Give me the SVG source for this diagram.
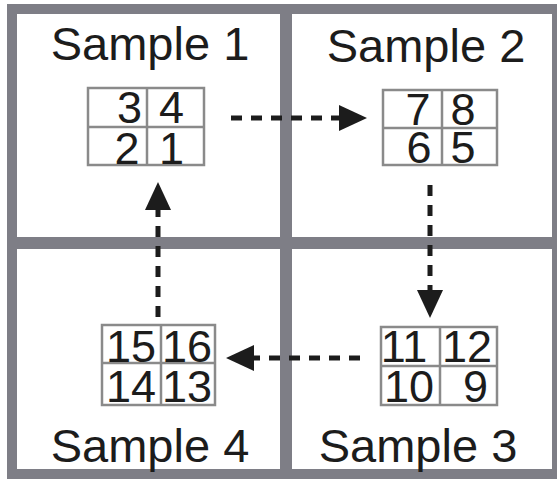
<svg xmlns="http://www.w3.org/2000/svg" width="557" height="480" viewBox="0 0 557 480">
  <style>
    .frame { fill: none; stroke: #7e7e86; }
    .grid { fill: #ffffff; stroke: #8a8a8a; stroke-width: 2.5; }
    .gline { stroke: #8a8a8a; stroke-width: 2.5; }
    .label { font-family: "Liberation Sans", Arial, sans-serif; font-size: 47px; fill: #1c1c1c; text-anchor: middle; }
    .num { font-family: "Liberation Sans", Arial, sans-serif; font-size: 45px; fill: #1c1c1c; text-anchor: middle; }
    .flow { fill: none; stroke: #1c1c1c; stroke-width: 5; stroke-dasharray: 11 9; }
  </style>
  <defs>
    <marker id="head" markerUnits="userSpaceOnUse" markerWidth="28" markerHeight="26" refX="0" refY="13" orient="auto">
      <path d="M0,0 L28,13 L0,26 z" fill="#1c1c1c"/>
    </marker>
  </defs>

  <rect width="557" height="480" fill="#ffffff"/>

  <!-- quadrant frame -->
  <g id="frame">
    <rect class="frame" x="12" y="9" width="545" height="465" stroke-width="10"/>
    <line class="frame" x1="286" y1="9" x2="286" y2="474" stroke-width="12"/>
    <line class="frame" x1="12" y1="243" x2="557" y2="243" stroke-width="12"/>
  </g>

  <g id="sample1">
    <text class="label" x="150" y="60">Sample 1</text>
    <rect class="grid" x="88" y="88" width="116" height="77"/>
    <line class="gline" x1="147" y1="88" x2="147" y2="165"/>
    <line class="gline" x1="88" y1="127" x2="204" y2="127"/>
    <text class="num" x="129.5" y="123">3</text>
    <text class="num" x="171.5" y="123">4</text>
    <text class="num" x="127" y="164">2</text>
    <text class="num" x="171.5" y="164">1</text>
  </g>

  <g id="sample2">
    <text class="label" x="426" y="62">Sample 2</text>
    <rect class="grid" x="383" y="90" width="114" height="75"/>
    <line class="gline" x1="442" y1="90" x2="442" y2="165"/>
    <line class="gline" x1="383" y1="128" x2="497" y2="128"/>
    <text class="num" x="418" y="125">7</text>
    <text class="num" x="463" y="125">8</text>
    <text class="num" x="419" y="163">6</text>
    <text class="num" x="463" y="163">5</text>
  </g>

  <g id="sample3">
    <text class="label" x="418" y="462">Sample 3</text>
    <rect class="grid" x="381" y="327" width="116" height="78"/>
    <line class="gline" x1="440" y1="327" x2="440" y2="405"/>
    <line class="gline" x1="381" y1="366" x2="497" y2="366"/>
    <text class="num" x="404" y="362">11</text>
    <text class="num" x="467" y="362">12</text>
    <text class="num" x="409" y="402">10</text>
    <text class="num" x="475.5" y="402">9</text>
  </g>

  <g id="sample4">
    <text class="label" x="150" y="462">Sample 4</text>
    <rect class="grid" x="102" y="325" width="113" height="80"/>
    <line class="gline" x1="161" y1="325" x2="161" y2="405"/>
    <line class="gline" x1="102" y1="363" x2="215" y2="363"/>
    <text class="num" x="131" y="362">15</text>
    <text class="num" x="187" y="362">16</text>
    <text class="num" x="131" y="402">14</text>
    <text class="num" x="187" y="402">13</text>
  </g>

  <!-- transfer order between samples -->
  <g id="connectors">
    <line class="flow" x1="231" y1="118" x2="339" y2="118" marker-end="url(#head)"/>
    <line class="flow" x1="430" y1="185" x2="430" y2="290" marker-end="url(#head)"/>
    <line class="flow" x1="360" y1="358" x2="254" y2="358" marker-end="url(#head)"/>
    <line class="flow" x1="158" y1="317" x2="158" y2="210" marker-end="url(#head)"/>
  </g>
</svg>
